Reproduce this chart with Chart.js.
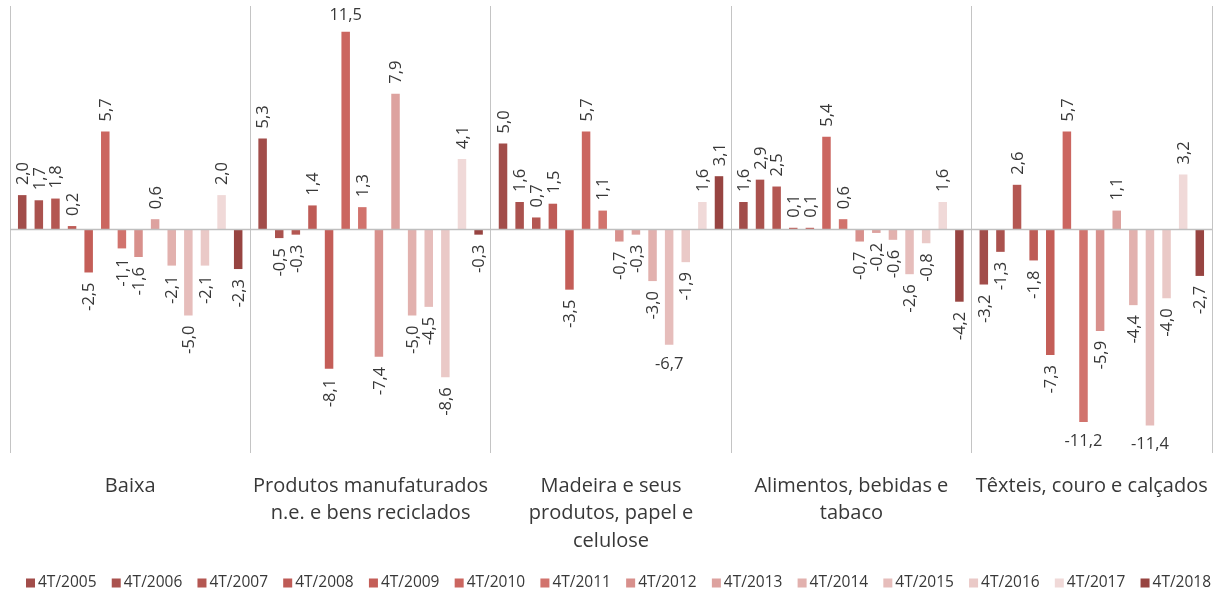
<!DOCTYPE html>
<html lang="pt-BR">
<head>
<meta charset="utf-8">
<title>Variação por setor no 4º trimestre, 2005–2018</title>
<script src="https://cdn.jsdelivr.net/npm/chart.js@4/dist/chart.umd.min.js"></script>
<style>
  html, body { margin: 0; padding: 0; background: #ffffff; }
  #wrap { width: 1223px; height: 596px; }
</style>
</head>
<body>
<div id="wrap"><canvas id="chart" width="1223" height="596"></canvas></div>
<script>
// Sector groups (multi-line axis labels)
const categories = [
  ['Baixa'],
  ['Produtos manufaturados', 'n.e. e bens reciclados'],
  ['Madeira e seus', 'produtos, papel e', 'celulose'],
  ['Alimentos, bebidas e', 'tabaco'],
  ['Têxteis, couro e calçados']
];

// One bar per fourth quarter, 2005 to 2018
const years = ['4T/2005', '4T/2006', '4T/2007', '4T/2008', '4T/2009', '4T/2010', '4T/2011',
               '4T/2012', '4T/2013', '4T/2014', '4T/2015', '4T/2016', '4T/2017', '4T/2018'];

// Values per sector, in the order of `years`
const baixa     = [2.0, 1.7, 1.8, 0.2, -2.5, 5.7, -1.1, -1.6, 0.6, -2.1, -5.0, -2.1, 2.0, -2.3];
const produtos  = [5.3, -0.5, -0.3, 1.4, -8.1, 11.5, 1.3, -7.4, 7.9, -5.0, -4.5, -8.6, 4.1, -0.3];
const madeira   = [5.0, 1.6, 0.7, 1.5, -3.5, 5.7, 1.1, -0.7, -0.3, -3.0, -6.7, -1.9, 1.6, 3.1];
const alimentos = [1.6, 2.9, 2.5, 0.1, 0.1, 5.4, 0.6, -0.7, -0.2, -0.6, -2.6, -0.8, 1.6, -4.2];
const texteis   = [-3.2, -1.3, 2.6, -1.8, -7.3, 5.7, -11.2, -5.9, 1.1, -4.4, -11.4, -4.0, 3.2, -2.7];

// Red monochrome ramp, one shade per year
const colors = ['#A24D4A', '#AA524E', '#B45752', '#BE5B56', '#C45E58', '#CB6660', '#D1736D',
                '#D8908C', '#DDA29F', '#E2B1AE', '#E6BDBB', '#EAC9C7', '#F0D9D8', '#974441'];

// Labels written horizontally instead of rotated ("category:series")
const flatLabels = new Set(['1:5', '2:10', '4:6', '4:10']);

const TEXT = '#383838';
const FONT = '"Open Sans", "DejaVu Sans", sans-serif';

const fmt = v => v.toFixed(1).replace('.', ',');

// Horizontal line through zero, drawn over the bars
const zeroLine = {
  id: 'zeroLine',
  afterDatasetsDraw(chart) {
    const { ctx, chartArea, scales: { y } } = chart;
    const py = y.getPixelForValue(0);
    ctx.save();
    ctx.strokeStyle = '#BFBFBF';
    ctx.lineWidth = 1.6;
    ctx.beginPath();
    ctx.moveTo(chartArea.left, py);
    ctx.lineTo(chartArea.right, py);
    ctx.stroke();
    ctx.restore();
  }
};

// Value labels at the outer end of each bar
const valueLabels = {
  id: 'valueLabels',
  afterDatasetsDraw(chart) {
    const ctx = chart.ctx;
    ctx.save();
    ctx.font = '16.5px ' + FONT;
    ctx.fillStyle = TEXT;
    chart.data.datasets.forEach((ds, si) => {
      const meta = chart.getDatasetMeta(si);
      meta.data.forEach((bar, ci) => {
        const v = ds.data[ci];
        const text = fmt(v);
        const up = v >= 0;
        if (flatLabels.has(ci + ':' + si)) {
          ctx.textAlign = 'center';
          ctx.textBaseline = 'alphabetic';
          ctx.fillText(text, bar.x, up ? bar.y - 12 : bar.y + 24);
        } else {
          ctx.save();
          ctx.translate(bar.x + 1, up ? bar.y - 10 : bar.y + 10);
          ctx.rotate(-Math.PI / 2);
          ctx.textAlign = up ? 'left' : 'right';
          ctx.textBaseline = 'middle';
          ctx.fillText(text, 0, 0);
          ctx.restore();
        }
      });
    });
    ctx.restore();
  }
};

// Single-row legend along the bottom edge
const legendRow = {
  id: 'legendRow',
  afterDraw(chart) {
    const ctx = chart.ctx;
    const box = 9, gap = 3, spacing = 15.2, cy = 583;
    ctx.save();
    ctx.font = '15.5px ' + FONT;
    ctx.textBaseline = 'middle';
    ctx.textAlign = 'left';
    let x = 26;
    chart.data.datasets.forEach(ds => {
      ctx.fillStyle = ds.backgroundColor;
      ctx.fillRect(x, cy - box / 2, box, box);
      ctx.fillStyle = TEXT;
      ctx.fillText(ds.label, x + box + gap, cy);
      x += box + gap + ctx.measureText(ds.label).width + spacing;
    });
    ctx.restore();
  }
};

const datasets = years.map((yr, i) => ({
  label: yr,
  data: [baixa[i], produtos[i], madeira[i], alimentos[i], texteis[i]],
  backgroundColor: colors[i],
  borderWidth: 0,
  categoryPercentage: 0.9675,
  barPercentage: 0.512
}));

new Chart(document.getElementById('chart'), {
  type: 'bar',
  data: { labels: categories, datasets },
  options: {
    responsive: false,
    animation: false,
    layout: { padding: { left: 10, right: 11, top: 6, bottom: 0 } },
    plugins: {
      legend: { display: false },
      tooltip: { enabled: false }
    },
    scales: {
      x: {
        grid: { color: '#C4C4C4', lineWidth: 1, drawTicks: false, offset: true },
        border: { display: false },
        ticks: {
          color: TEXT,
          font: { family: FONT, size: 20, lineHeight: 1.39 },
          padding: 19,
          maxRotation: 0,
          autoSkip: false
        },
        afterFit(scale) {
          // fixed band height; labels fit inside their categories, so no side padding
          scale.height = 143;
          scale.paddingLeft = 0;
          scale.paddingRight = 0;
        }
      },
      y: { display: false, min: -13, max: 13 }
    }
  },
  plugins: [zeroLine, valueLabels, legendRow]
});
</script>
</body>
</html>
